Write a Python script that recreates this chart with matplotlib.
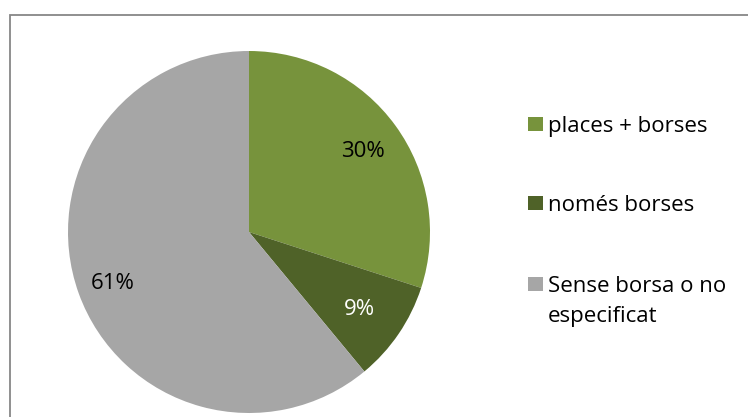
import numpy as np
import matplotlib.pyplot as plt
from matplotlib.patches import Rectangle

# data
labels = ['places + borses', 'només borses', 'Sense borsa o no\nespecificat']
values = [30, 9, 61]
pct_labels = ['30%', '9%', '61%']
colors = ['#77933C', '#4F6228', '#A6A6A6']
pct_colors = ['black', 'white', 'black']

plt.rcParams['font.family'] = ['Open Sans', 'DejaVu Sans']

W, H = 748, 417
fig = plt.figure(figsize=(W / 100, H / 100), dpi=100)

# chart frame (only top/left edges fall inside the image)
fig.add_artist(Rectangle((10 / W, -0.1), 1.2, (H - 15) / H + 0.1, transform=fig.transFigure,
                         fill=False, edgecolor='#878787', linewidth=1.3))

cx, cy, r = 249, H - 232, 181
ax = fig.add_axes([(cx - r) / W, (cy - r) / H, 2 * r / W, 2 * r / H])
wedges, _ = ax.pie(values, colors=colors, startangle=90, counterclock=False, radius=1,
                   wedgeprops=dict(linewidth=0))
ax.set_xlim(-1, 1)
ax.set_ylim(-1, 1)
ax.set_aspect('equal')
ax.axis('off')

dists = [0.78, 0.74, 0.80]
for w, txt, c, d in zip(wedges, pct_labels, pct_colors, dists):
    ang = np.deg2rad((w.theta1 + w.theta2) / 2)
    ax.text(d * np.cos(ang), d * np.sin(ang), txt, ha='center', va='center_baseline',
            fontsize=16, color=c)

# legend
ys = [124, 203, 284]
for lab, col, y in zip(labels, colors, ys):
    fig.add_artist(Rectangle((528 / W, (H - y - 7) / H), 15 / W, 14 / H,
                             transform=fig.transFigure, facecolor=col, edgecolor='none'))
    for k, line in enumerate(lab.split('\n')):
        fig.text(548 / W, (H - y - 8 - 30 * k) / H, line, ha='left', va='baseline',
                 fontsize=16)

fig.savefig('out.png', dpi=100)
